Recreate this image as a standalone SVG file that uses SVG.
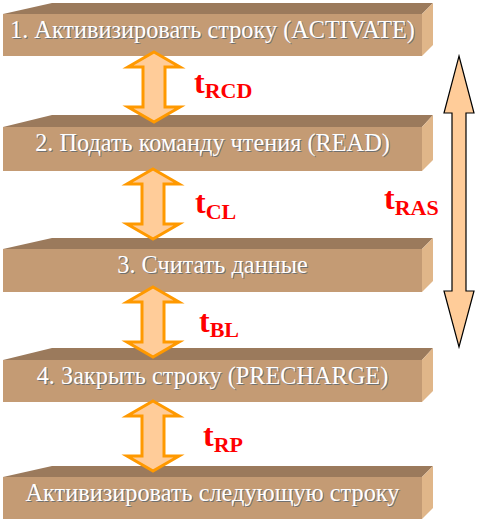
<svg xmlns="http://www.w3.org/2000/svg" width="477" height="523" viewBox="0 0 477 523">
<style>
.front{fill:#C49B74}
.top{fill:#9B7A5C}
.side{fill:#E0B689}
.sh{fill:#707070}
.wt{fill:#FFFFFF}
.sa{fill:#FFCC99;stroke:#FF9900;stroke-width:3;stroke-linejoin:miter}
.ba{fill:#FFCC99;stroke:#000;stroke-width:1.2}
.tm{fill:#FF0000}
</style>
<defs>
<path id="sarrow" d="M0,0 L26,15 L11,15 L11,55 L26,55 L0,70 L-26,55 L-11,55 L-11,15 L-26,15 Z"/>
</defs>
<g id="box1">
<polygon class="top" points="3,14 52,3 433,3 422,14"/>
<polygon class="side" points="422,14 433,3 433,45 422,56"/>
<rect class="front" x="3" y="14" width="419" height="42"/>
<text class="sh" x="213.5" y="38.5" font-family="Liberation Serif" font-size="24.3" text-anchor="middle">1. Активизировать строку (ACTIVATE)</text>
<text class="wt" x="212.5" y="37.5" font-family="Liberation Serif" font-size="24.3" text-anchor="middle">1. Активизировать строку (ACTIVATE)</text>
</g>
<g id="box2">
<polygon class="top" points="3,127 52,115 433,115 422,127"/>
<polygon class="side" points="422,127 433,115 433,160 422,171"/>
<rect class="front" x="3" y="127" width="419" height="44"/>
<text class="sh" x="213.5" y="152" font-family="Liberation Serif" font-size="24.3" text-anchor="middle">2. Подать команду чтения (READ)</text>
<text class="wt" x="212.5" y="151" font-family="Liberation Serif" font-size="24.3" text-anchor="middle">2. Подать команду чтения (READ)</text>
</g>
<g id="box3">
<polygon class="top" points="3,249 52,238 433,238 422,249"/>
<polygon class="side" points="422,249 433,238 433,281 422,292"/>
<rect class="front" x="3" y="249" width="419" height="43"/>
<text class="sh" x="213.5" y="274" font-family="Liberation Serif" font-size="24.3" text-anchor="middle">3. Считать данные</text>
<text class="wt" x="212.5" y="273" font-family="Liberation Serif" font-size="24.3" text-anchor="middle">3. Считать данные</text>
</g>
<g id="box4">
<polygon class="top" points="3,360 52,348 433,348 422,360"/>
<polygon class="side" points="422,360 433,348 433,391 422,402"/>
<rect class="front" x="3" y="360" width="419" height="42"/>
<text class="sh" x="213.5" y="385" font-family="Liberation Serif" font-size="24.3" text-anchor="middle">4. Закрыть строку (PRECHARGE)</text>
<text class="wt" x="212.5" y="384" font-family="Liberation Serif" font-size="24.3" text-anchor="middle">4. Закрыть строку (PRECHARGE)</text>
</g>
<g id="box5">
<polygon class="top" points="3,477 52,466 433,466 422,477"/>
<polygon class="side" points="422,477 433,466 433,508 422,519"/>
<rect class="front" x="3" y="477" width="419" height="42"/>
<text class="sh" x="213.5" y="502" font-family="Liberation Serif" font-size="24.3" text-anchor="middle">Активизировать следующую строку</text>
<text class="wt" x="212.5" y="501" font-family="Liberation Serif" font-size="24.3" text-anchor="middle">Активизировать следующую строку</text>
</g>
<g id="connectors">
<use href="#sarrow" class="sa" transform="translate(154,52)"/>
<use href="#sarrow" class="sa" transform="translate(153,169)"/>
<use href="#sarrow" class="sa" transform="translate(153,287)"/>
<use href="#sarrow" class="sa" transform="translate(153,401)"/>
<path class="ba" d="M459,56 L474,113 L466,113 L466,291 L474,291 L459,347 L444,291 L452,291 L452,113 L444,113 Z"/>
</g>
<g id="labels">
<text class="tm" x="194" y="93" font-family="Liberation Serif" font-weight="bold" font-size="32">t<tspan font-size="22" dy="5">RCD</tspan></text>
<text class="tm" x="195" y="213" font-family="Liberation Serif" font-weight="bold" font-size="32">t<tspan font-size="22" dy="6">CL</tspan></text>
<text class="tm" x="199" y="332" font-family="Liberation Serif" font-weight="bold" font-size="32">t<tspan font-size="22" dy="5">BL</tspan></text>
<text class="tm" x="203" y="446" font-family="Liberation Serif" font-weight="bold" font-size="32">t<tspan font-size="22" dy="6">RP</tspan></text>
<text class="tm" x="384" y="209" font-family="Liberation Serif" font-weight="bold" font-size="32">t<tspan font-size="22" dy="6">RAS</tspan></text>
</g>
</svg>
